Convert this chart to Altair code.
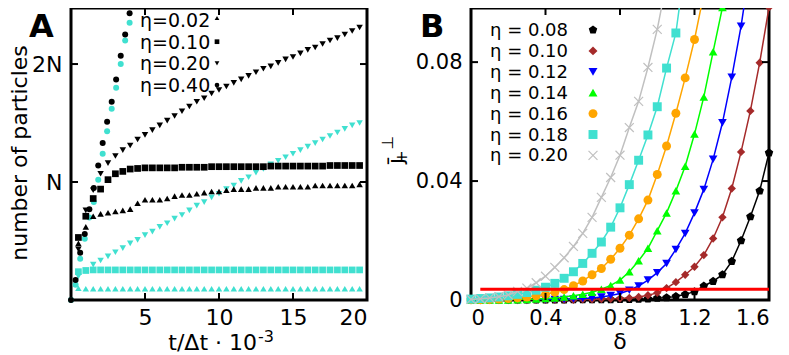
import altair as alt
import pandas as pd

FONT = "DejaVu Sans"
CYAN = "#40e0d0"

# ---------------- Panel A data ----------------
t_steps = [0.5, 1.0, 1.5, 2.0, 2.5, 3.0, 3.5, 4.0, 4.5, 5.0, 5.5, 6.0, 6.5, 7.0, 7.5, 8.0,
           8.5, 9.0, 9.5, 10.0, 10.5, 11.0, 11.5, 12.0, 12.5, 13.0, 13.5, 14.0, 14.5, 15.0,
           15.5, 16.0, 16.5, 17.0, 17.5, 18.0, 18.5, 19.0, 19.5]
t_circles = [0.0, 0.31, 0.62, 0.93, 1.24, 1.54, 1.84, 2.14, 2.44, 2.75, 3.05, 3.36, 3.66, 3.96]

cyan_eta002 = [0.10, 0.095, 0.095, 0.095, 0.095, 0.095, 0.095, 0.095, 0.095, 0.095,
               0.095, 0.095, 0.095, 0.095, 0.095, 0.095, 0.095, 0.095, 0.095, 0.095,
               0.095, 0.095, 0.095, 0.095, 0.095, 0.095, 0.095, 0.095, 0.095, 0.095,
               0.095, 0.095, 0.095, 0.095, 0.095, 0.095, 0.095, 0.095, 0.095]
cyan_eta010 = [0.24, 0.25, 0.255, 0.255, 0.255, 0.255, 0.255, 0.255, 0.255, 0.255,
               0.255, 0.255, 0.255, 0.255, 0.255, 0.255, 0.255, 0.255, 0.255, 0.255,
               0.255, 0.255, 0.255, 0.255, 0.255, 0.255, 0.255, 0.255, 0.255, 0.255,
               0.255, 0.255, 0.255, 0.255, 0.255, 0.255, 0.255, 0.255, 0.255]
cyan_eta020 = [0.20, 0.25, 0.30, 0.335, 0.37, 0.405, 0.44, 0.48, 0.51, 0.55,
               0.58, 0.62, 0.65, 0.69, 0.72, 0.76, 0.80, 0.83, 0.87, 0.90,
               0.94, 0.97, 1.01, 1.04, 1.08, 1.11, 1.15, 1.18, 1.21, 1.24,
               1.27, 1.30, 1.33, 1.36, 1.39, 1.42, 1.45, 1.48, 1.50]
cyan_eta040 = [0.0, 0.13, 0.35, 0.52, 0.70, 0.83, 1.02, 1.24, 1.43, 1.62, 1.80, 2.00, 2.20, 2.35]

black_eta002 = [0.48, 0.62, 0.71, 0.73, 0.74, 0.75, 0.76, 0.77, 0.82, 0.85,
                0.85, 0.85, 0.86, 0.88, 0.89, 0.89, 0.90, 0.91, 0.92, 0.92,
                0.93, 0.94, 0.94, 0.94, 0.95, 0.95, 0.95, 0.96, 0.96, 0.96,
                0.96, 0.96, 0.97, 0.97, 0.97, 0.97, 0.97, 0.97, 0.98]
black_eta010 = [0.53, 0.71, 0.86, 0.94, 1.02, 1.07, 1.09, 1.11, 1.115, 1.12,
                1.12, 1.12, 1.12, 1.12, 1.125, 1.125, 1.125, 1.125, 1.13, 1.13,
                1.13, 1.13, 1.13, 1.13, 1.13, 1.13, 1.135, 1.135, 1.135, 1.135,
                1.135, 1.135, 1.135, 1.135, 1.14, 1.14, 1.14, 1.14, 1.14]
black_eta020 = [0.43, 0.76, 0.93, 1.07, 1.16, 1.22, 1.27, 1.31, 1.36, 1.40,
                1.44, 1.48, 1.52, 1.56, 1.60, 1.64, 1.68, 1.71, 1.75, 1.78,
                1.81, 1.84, 1.87, 1.90, 1.93, 1.96, 1.98, 2.01, 2.04, 2.06,
                2.09, 2.12, 2.14, 2.17, 2.20, 2.22, 2.25, 2.28, 2.31]
black_eta040 = [0.0, 0.17, 0.40, 0.56, 0.77, 0.95, 1.14, 1.33, 1.51, 1.68, 1.87, 2.07, 2.25, 2.43]

legend_a_labels = ["η=0.02", "η=0.10", "η=0.20", "η=0.40"]
legend_a_shapes = ["triangle-up", "square", "triangle-down", "circle"]
a_x_ticks = [5, 10, 15, 20]
a_y_ticks = [1, 2]
a_y_tick_labels = ["N", "2N"]

# ---------------- Panel B data ----------------
delta = [0.0, 0.05, 0.1, 0.15, 0.2, 0.25, 0.3, 0.35, 0.4, 0.45, 0.5, 0.55, 0.6, 0.65,
         0.7, 0.75, 0.8, 0.85, 0.9, 0.95, 1.0, 1.05, 1.1, 1.15, 1.2, 1.25, 1.3, 1.35,
         1.4, 1.45, 1.5, 1.55, 1.6]
j_eta008 = [0.0, 0.0, 0.0, 0.0, 0.0, 0.0, 0.0, 0.0, 0.0, 0.0,
            0.0, 0.0001, 0.0001, 0.0001, 0.0001, 0.0001, 0.0002, 0.0002, 0.0003, 0.0004,
            0.0006, 0.0008, 0.0012, 0.0019, 0.0028, 0.0047, 0.0063, 0.0085, 0.0130, 0.0200,
            0.0280, 0.0367, 0.0495]
j_eta010 = [0.0, 0.0, 0.0, 0.0, 0.0, 0.0, 0.0, 0.0001, 0.0001, 0.0001,
            0.0001, 0.0001, 0.0002, 0.0002, 0.0003, 0.0004, 0.0005, 0.0007, 0.0010, 0.0016,
            0.0024, 0.0040, 0.0060, 0.0085, 0.0112, 0.0151, 0.0207, 0.0278, 0.0375, 0.0498,
            0.0636, 0.0798, 0.0984]
j_eta012 = [0.0, 0.0, 0.0, 0.0, 0.0, 0.0, 0.0, 0.0001, 0.0001, 0.0002,
            0.0002, 0.0003, 0.0005, 0.0007, 0.0010, 0.0015, 0.0022, 0.0033, 0.0047, 0.0067,
            0.0092, 0.0123, 0.0170, 0.0224, 0.0293, 0.0372, 0.0473, 0.0596, 0.0749, 0.0921,
            0.113]
j_eta014 = [0.0, 0.0, 0.0, 0.0, 0.0, 0.0001, 0.0002, 0.0003, 0.0005, 0.0007,
            0.0010, 0.0014, 0.0019, 0.0026, 0.0036, 0.0049, 0.0067, 0.0095, 0.0132, 0.0174,
            0.0233, 0.0293, 0.0367, 0.0450, 0.0558, 0.0683, 0.0835, 0.0984, 0.117]
j_eta016 = [0.0001, 0.0001, 0.0002, 0.0003, 0.0005, 0.0007, 0.0010, 0.0014, 0.0019, 0.0026,
            0.0035, 0.0048, 0.0064, 0.0085, 0.0106, 0.0137, 0.0174, 0.0218, 0.0273, 0.0336,
            0.0422, 0.0518, 0.0628, 0.0747, 0.0876, 0.103]
j_eta018 = [0.0003, 0.0005, 0.0007, 0.0010, 0.0014, 0.0019, 0.0025, 0.0033, 0.0043, 0.0056,
            0.0073, 0.0095, 0.0123, 0.0157, 0.0195, 0.0245, 0.0310, 0.0388, 0.0470, 0.0555,
            0.0650, 0.0780, 0.0898, 0.113]
j_eta020 = [0.0002, 0.0004, 0.0007, 0.0011, 0.0017, 0.0029, 0.0040, 0.0058, 0.0080, 0.0110,
            0.0142, 0.0180, 0.0224, 0.0278, 0.0345, 0.0412, 0.0487, 0.0580, 0.0668, 0.0782,
            0.0910, 0.107]

legend_b_labels = ["η = 0.08", "η = 0.10", "η = 0.12", "η = 0.14", "η = 0.16", "η = 0.18", "η = 0.20"]
b_colors = ["#000000", "#a52a2a", "#0000ff", "#00ff00", "#ffa500", "#40e0d0", "#c0c0c0"]
PENTAGON = "M0,-1L0.951,-0.309L0.588,0.809L-0.588,0.809L-0.951,-0.309Z"
XMARK = "M-1,-1L1,1M-1,1L1,-1"
b_shapes = [PENTAGON, "diamond", "triangle-down", "triangle-up", "circle", "square", XMARK]
b_sizes = [80, 70, 75, 75, 80, 80, 80]
b_filled = [True, True, True, True, True, True, False]
threshold_delta = [0.05, 1.6]
threshold_j = [0.0036, 0.0036]
b_x_ticks = [0, 0.4, 0.8, 1.2, 1.6]
b_y_ticks = [0, 0.04, 0.08]

# ---------------- layout ----------------
WA, WB, H = 296, 298, 292
ONE = pd.DataFrame({"a": [0]})


def txt(s, x, y, size, **kw):
    return alt.Chart(ONE).mark_text(text=s, font=FONT, fontSize=size, color="black", **kw).encode(
        x=alt.value(x), y=alt.value(y))


axis_common = dict(ticks=False, domain=False, grid=False, labelFont=FONT,
                   labelColor="black", title=None)

# ---------- Panel A ----------
xA = alt.X("t:Q", scale=alt.Scale(domain=[0, 20], nice=False, zero=False),
           axis=alt.Axis(values=a_x_ticks, labelPadding=7, labelFontSize=22, **axis_common))
yA_expr = "datum.value == 1 ? '%s' : '%s'" % (a_y_tick_labels[0], a_y_tick_labels[1])
yA = alt.Y("n:Q", scale=alt.Scale(domain=[0, 2.475], nice=False, zero=False),
           axis=alt.Axis(values=a_y_ticks, labelExpr=yA_expr, labelPadding=9,
                         labelFontSize=22, **axis_common))

a_series = [
    (t_steps, cyan_eta002, CYAN, "triangle-up", 42),
    (t_steps, cyan_eta010, CYAN, "square", 45),
    (t_steps, cyan_eta020, CYAN, "triangle-down", 42),
    (t_circles, cyan_eta040, CYAN, "circle", 36),
    (t_steps, black_eta002, "black", "triangle-up", 42),
    (t_steps, black_eta010, "black", "square", 45),
    (t_steps, black_eta020, "black", "triangle-down", 42),
    (t_circles, black_eta040, "black", "circle", 36),
]
layersA = []
for tx, vals, col, shp, sz in a_series:
    df = pd.DataFrame({"t": tx, "n": vals})
    layersA.append(alt.Chart(df).mark_point(filled=True, opacity=1, shape=shp, size=sz,
                                            color=col, strokeWidth=0).encode(x=xA, y=yA))

tickA_x = pd.DataFrame({"t": a_x_ticks[:-1]})
tickA_y = pd.DataFrame({"n": a_y_ticks})
layersA += [
    alt.Chart(tickA_x).mark_rule(color="black", strokeWidth=2).encode(x=xA, y=alt.value(H), y2=alt.value(H - 7)),
    alt.Chart(tickA_x).mark_rule(color="black", strokeWidth=2).encode(x=xA, y=alt.value(0), y2=alt.value(7)),
    alt.Chart(tickA_y).mark_rule(color="black", strokeWidth=2).encode(y=yA, x=alt.value(0), x2=alt.value(7)),
    alt.Chart(tickA_y).mark_rule(color="black", strokeWidth=2).encode(y=yA, x=alt.value(WA - 7), x2=alt.value(WA)),
]
# legend A
for i, (lab, shp) in enumerate(zip(legend_a_labels, legend_a_shapes)):
    yc = 12 + i * 21.7
    layersA.append(txt(lab, 69, yc + 7, 19, align="left", baseline="alphabetic"))
    layersA.append(alt.Chart(ONE).mark_point(filled=True, opacity=1, shape=shp, size=22,
                                             color="black", strokeWidth=0).encode(
        x=alt.value(146), y=alt.value(yc - (2 if i == 0 else 0))))
# titles / letter
layersA += [
    txt("A", -42, 29, 32, align="left", baseline="alphabetic", fontWeight="bold"),
    txt("number of particles", -51, 145, 22, angle=270, align="center", baseline="middle"),
    txt("t/Δt · 10", 186, 342, 22, align="right", baseline="alphabetic"),
    txt("-3", 187, 334, 16, align="left", baseline="alphabetic"),
]
chartA = alt.layer(*layersA).properties(width=WA, height=H)

# ---------- Panel B ----------
xB = alt.X("d:Q", scale=alt.Scale(domain=[0, 1.6], nice=False, zero=False),
           axis=alt.Axis(values=b_x_ticks, labelPadding=7, labelFontSize=21,
                         labelExpr="datum.value == 0 ? '0' : format(datum.value, '.1f')",
                         **axis_common))
yB = alt.Y("j:Q", scale=alt.Scale(domain=[0, 0.0982], nice=False, zero=False),
           axis=alt.Axis(values=b_y_ticks, labelPadding=9, labelFontSize=21,
                         labelExpr="datum.value == 0 ? '0' : format(datum.value, '.2f')",
                         **axis_common))

b_values = [j_eta008, j_eta010, j_eta012, j_eta014, j_eta016, j_eta018, j_eta020]
layersB = []
for vals, col, shp, sz, fil in zip(b_values, b_colors, b_shapes, b_sizes, b_filled):
    df = pd.DataFrame({"d": delta[:len(vals)], "j": vals})
    layersB.append(alt.Chart(df).mark_line(color=col, strokeWidth=1.5, clip=True).encode(x=xB, y=yB))
    if fil:
        pm = alt.Chart(df).transform_filter("datum.j <= 0.1").mark_point(
            filled=True, opacity=1, shape=shp, size=sz, color=col, strokeWidth=0)
    else:
        pm = alt.Chart(df).transform_filter("datum.j <= 0.1").mark_point(
            filled=False, opacity=1, shape=shp, size=sz, color=col, strokeWidth=1.2)
    layersB.append(pm.encode(x=xB, y=yB))

layersB.append(alt.Chart(pd.DataFrame({"d": threshold_delta, "j": threshold_j})).mark_line(
    color="#ff0000", strokeWidth=3).encode(x=xB, y=yB))

tickB_x = pd.DataFrame({"d": b_x_ticks[1:-1]})
tickB_y = pd.DataFrame({"j": b_y_ticks[1:]})
layersB += [
    alt.Chart(tickB_x).mark_rule(color="black", strokeWidth=2).encode(x=xB, y=alt.value(H), y2=alt.value(H - 7)),
    alt.Chart(tickB_x).mark_rule(color="black", strokeWidth=2).encode(x=xB, y=alt.value(0), y2=alt.value(7)),
    alt.Chart(tickB_y).mark_rule(color="black", strokeWidth=2).encode(y=yB, x=alt.value(0), x2=alt.value(7)),
    alt.Chart(tickB_y).mark_rule(color="black", strokeWidth=2).encode(y=yB, x=alt.value(WB - 7), x2=alt.value(WB)),
]
for i, (lab, col, shp, fil) in enumerate(zip(legend_b_labels, b_colors, b_shapes, b_filled)):
    yb = 28 + i * 20.9
    layersB.append(txt(lab, 19, yb, 18, align="left", baseline="alphabetic"))
    layersB.append(alt.Chart(ONE).mark_point(filled=fil, opacity=1, shape=shp, size=80, color=col,
                                             strokeWidth=(0 if fil else 1.2)).encode(
        x=alt.value(122), y=alt.value(yb - 6)))
layersB += [
    txt("B", -51, 29, 32, align="left", baseline="alphabetic", fontWeight="bold"),
    txt("δ", 149, 341, 22, align="center", baseline="alphabetic"),
    txt("j̄", -75, 153, 22, angle=270, align="center", baseline="middle"),
    txt("+", -69, 149, 16, angle=270, align="center", baseline="middle"),
    txt("⊥", -83.5, 134.5, 16, angle=270, align="center", baseline="middle"),
]
chartB = alt.layer(*layersB).properties(width=WB, height=H)

chart = alt.hconcat(chartA, chartB, spacing=104, bounds="flush").properties(
    autosize=alt.AutoSizeParams(type="none"),
    padding={"left": 63, "top": 0, "right": 710, "bottom": 345},
).configure_view(stroke="black", strokeWidth=3)

chart.save("out.html", embed_options={"renderer": "svg", "actions": False})
